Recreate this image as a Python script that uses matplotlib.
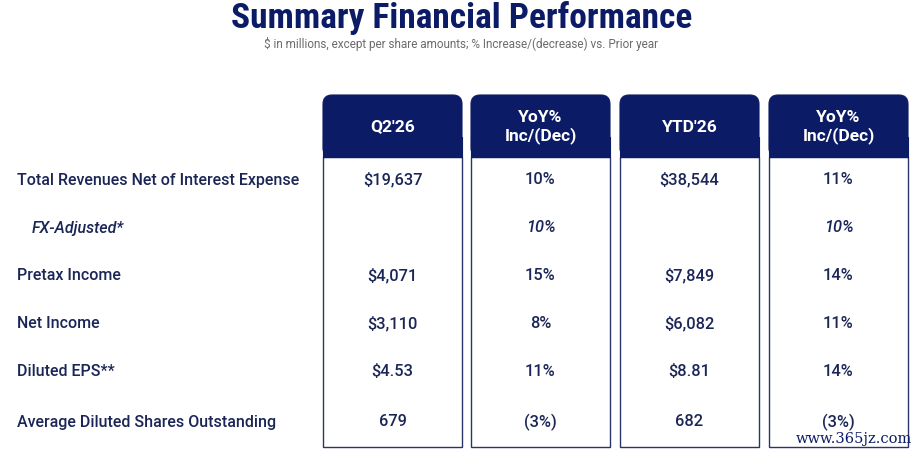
import matplotlib.pyplot as plt
from matplotlib.patches import FancyBboxPatch, Rectangle

# table data
row_labels = ["Total Revenues Net of Interest Expense", "FX-Adjusted*", "Pretax Income",
              "Net Income", "Diluted EPS**", "Average Diluted Shares Outstanding"]
col_headers = ["Q2'26", "YoY%\nInc/(Dec)", "YTD'26", "YoY%\nInc/(Dec)"]
q2_26 = ["$19,637", "", "$4,071", "$3,110", "$4.53", "679"]
q2_yoy = ["10%", "10%", "15%", "8%", "11%", "(3%)"]
ytd_26 = ["$38,544", "", "$7,849", "$6,082", "$8.81", "682"]
ytd_yoy = ["11%", "10%", "14%", "11%", "14%", "(3%)"]
italic_rows = [1]

navy = "#0c1b66"
text_c = "#1b2657"
plt.rcParams['font.family'] = ['Roboto', 'DejaVu Sans']

fig = plt.figure(figsize=(9.19, 4.54), dpi=100)
ax = fig.add_axes([0, 0, 1, 1])
ax.set_xlim(0, 919)
ax.set_ylim(454, 0)
ax.axis('off')

fig.text(0.502, 1 - 18 / 454, "Summary Financial Performance", ha='center', va='center',
         fontsize=25.5, fontweight='bold', color=navy, family=['Roboto Condensed', 'Roboto', 'DejaVu Sans'])
fig.text(0.502, 1 - 44 / 454, "$ in millions, except per share amounts; % Increase/(decrease) vs. Prior year",
         ha='center', va='center', fontsize=8.5, color="#6b6b6b",
         family=['Liberation Sans Narrow', 'Roboto', 'DejaVu Sans'])

columns = [q2_26, q2_yoy, ytd_26, ytd_yoy]
col_left = [323, 471, 620, 769]
col_w = 139
top, head_bot, bottom = 95, 157, 447
row_y = [180, 228, 276, 324, 372, 422]

for j, (x0, head, vals) in enumerate(zip(col_left, col_headers, columns)):
    # white body with thin border
    ax.add_patch(Rectangle((x0, head_bot), col_w, bottom - head_bot, facecolor='white',
                           edgecolor="#2a3466", lw=1.0, zorder=1))
    # header with rounded top corners
    ax.add_patch(FancyBboxPatch((x0, top), col_w, head_bot - top,
                                boxstyle="round,pad=0,rounding_size=9",
                                facecolor=navy, edgecolor=navy, lw=0.8, zorder=2))
    ax.add_patch(Rectangle((x0, head_bot - 20), col_w, 20, facecolor=navy,
                           edgecolor=navy, lw=0.8, zorder=2))
    ax.text(x0 + col_w / 2, (top + head_bot) / 2 + 1, head, ha='center', va='center',
            fontsize=12.5, fontweight='bold', color='white', linespacing=1.2, zorder=3)
    for i, v in enumerate(vals):
        ax.text(x0 + col_w / 2, row_y[i], v, ha='center', va='center', fontsize=11.8,
                fontweight='medium', color=text_c,
                style='italic' if i in italic_rows else 'normal', zorder=3)

for i, lab in enumerate(row_labels):
    if i in italic_rows:
        ax.text(32, row_y[i], lab, ha='left', va='center', fontsize=11.5, fontweight='medium',
                style='italic', color=text_c)
    else:
        ax.text(17, row_y[i], lab, ha='left', va='center', fontsize=11.5, fontweight='medium',
                color=text_c)

# watermark
ax.text(854, 439, "www.365jz.com", ha='center', va='center', fontsize=10.5,
        color=navy, family=['DejaVu Serif'], zorder=4)

fig.savefig("out.png", dpi=100)
